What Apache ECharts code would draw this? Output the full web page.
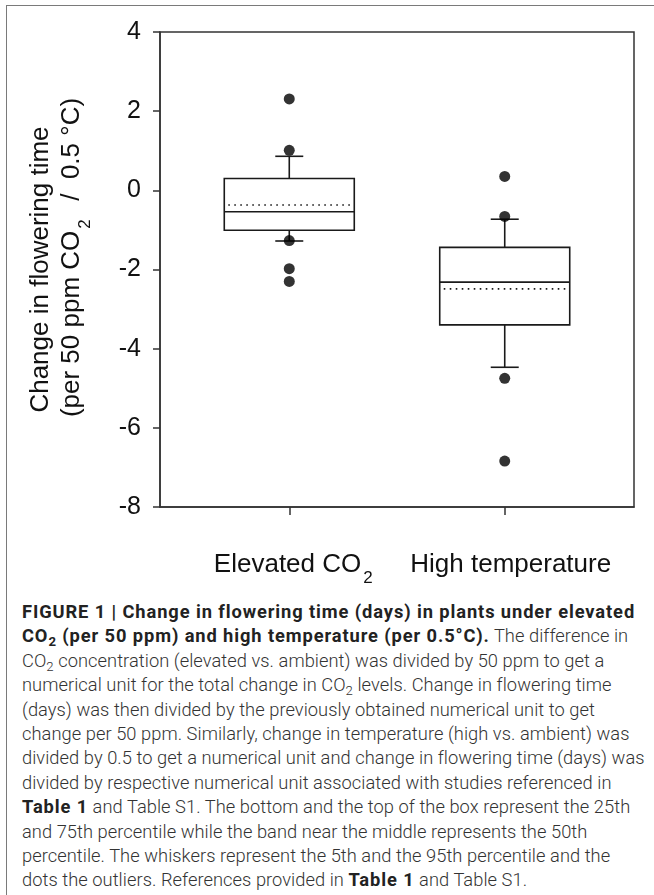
<!DOCTYPE html>
<html>
<head>
<meta charset="utf-8">
<script src="https://cdn.jsdelivr.net/npm/echarts@6/dist/echarts.min.js"></script>
<style>
    body { margin: 0; background: #fff; }
    #page { position: relative; width: 654px; height: 895px; overflow: hidden; }
    #frame {
        position: absolute; left: 6px; top: 5px; width: 700px; height: 950px;
        border-top: 1.5px solid #7a7a7a; border-left: 1.5px solid #7a7a7a;
    }
    #chart { position: absolute; left: 0; top: 0; width: 654px; height: 595px; }
    #caption {
        position: absolute; left: 22px; top: 600px;
        font-family: Roboto, "Liberation Sans", sans-serif; font-weight: 300;
        font-size: 18.3px; letter-spacing: 0.05px; line-height: 24.4px; color: #333; white-space: nowrap;
    }
    #caption b { font-weight: 700; color: #222; letter-spacing: 0.9px; }
    #caption sub { font-size: 0.72em; vertical-align: -0.3em; line-height: 0; }
</style>
</head>
<body>
<div id="page">
    <div id="frame"></div>
    <div id="chart"></div>
    <div id="caption">
        <b>FIGURE 1 | Change in flowering time (days) in plants under elevated</b><br>
        <b>CO<sub>2</sub> (per 50 ppm) and high temperature (per 0.5°C).</b> The difference in<br>
        CO<sub>2</sub> concentration (elevated vs. ambient) was divided by 50 ppm to get a<br>
        numerical unit for the total change in CO<sub>2</sub> levels. Change in flowering time<br>
        (days) was then divided by the previously obtained numerical unit to get<br>
        change per 50 ppm. Similarly, change in temperature (high vs. ambient) was<br>
        divided by 0.5 to get a numerical unit and change in flowering time (days) was<br>
        divided by respective numerical unit associated with studies referenced in<br>
        <b>Table 1</b> and Table S1. The bottom and the top of the box represent the 25th<br>
        and 75th percentile while the band near the middle represents the 50th<br>
        percentile. The whiskers represent the 5th and the 95th percentile and the<br>
        dots the outliers. References provided in <b>Table 1</b> and Table S1.
    </div>
</div>
<script>
    // groups, placed at x = 0 and 1 on a value axis
    const positions = [0, 1];
    const xLabels = ['{a|Elevated CO}{sub|2}', '{a|High temperature}'];

    // box statistics
    const whiskerLow = [-1.28, -4.47];
    const q1 = [-1.01, -3.40];
    const median = [-0.54, -2.32];
    const q3 = [0.30, -1.44];
    const whiskerHigh = [0.86, -0.73];
    const mean = [-0.37, -2.49];

    // outliers
    const outliersCO2 = [2.31, 1.01, -1.27, -1.98, -2.30];
    const outliersTemp = [0.35, -0.66, -4.75, -6.84];

    const BOX_WIDTH = 130;
    const CAP_WIDTH = 28;
    const FONT = '"Liberation Sans", Arial, sans-serif';

    const boxData = positions.map((p, i) =>
        [p, whiskerLow[i], q1[i], median[i], q3[i], whiskerHigh[i], mean[i]]);
    const outlierData = outliersCO2.map(v => [positions[0], v])
        .concat(outliersTemp.map(v => [positions[1], v]));

    function renderBox(params, api) {
        const x = api.value(0);
        const low = api.coord([x, api.value(1)]);
        const bot = api.coord([x, api.value(2)]);
        const med = api.coord([x, api.value(3)]);
        const top = api.coord([x, api.value(4)]);
        const high = api.coord([x, api.value(5)]);
        const avg = api.coord([x, api.value(6)]);
        const cx = med[0];
        const h = BOX_WIDTH / 2;
        const c = CAP_WIDTH / 2;
        const solid = { stroke: '#1a1a1a', lineWidth: 1.6, fill: null };
        return {
            type: 'group',
            children: [
                { type: 'line', shape: { x1: cx, y1: top[1], x2: cx, y2: high[1] }, style: solid },
                { type: 'line', shape: { x1: cx, y1: bot[1], x2: cx, y2: low[1] }, style: solid },
                { type: 'line', shape: { x1: cx - c, y1: high[1], x2: cx + c, y2: high[1] }, style: solid },
                { type: 'line', shape: { x1: cx - c, y1: low[1], x2: cx + c, y2: low[1] }, style: solid },
                { type: 'rect', shape: { x: cx - h, y: top[1], width: BOX_WIDTH, height: bot[1] - top[1] },
                  style: { stroke: '#1a1a1a', lineWidth: 1.6, fill: '#fff' } },
                { type: 'line', shape: { x1: cx - h, y1: med[1], x2: cx + h, y2: med[1] }, style: solid },
                { type: 'line', shape: { x1: cx - h + 4, y1: avg[1], x2: cx + h - 2, y2: avg[1] },
                  style: { stroke: '#1a1a1a', lineWidth: 1.6, lineDash: [1.6, 4.4] } }
            ]
        };
    }

    const textRich = {
        a: { fontSize: 26, lineHeight: 31, verticalAlign: 'top', color: '#111', fontFamily: FONT },
        lead: { fontSize: 26, lineHeight: 31, verticalAlign: 'top', color: '#111', fontFamily: FONT, padding: [0, 0, 0, 24] },
        sub: { fontSize: 17, lineHeight: 17, verticalAlign: 'top', padding: [18, 4, 0, 2], color: '#111', fontFamily: FONT }
    };

    const chart = echarts.init(document.getElementById('chart'), null, { renderer: 'canvas' });
    chart.setOption({
        animation: false,
        textStyle: { fontFamily: FONT },
        grid: {
            left: 160, top: 32, width: 474, height: 475,
            show: true, borderColor: '#333', borderWidth: 1.5,
            outerBoundsMode: 'none'
        },
        xAxis: {
            type: 'value',
            min: -0.6,
            max: 1.6,
            splitLine: { show: false },
            axisLine: { show: true, onZero: false, lineStyle: { color: '#333', width: 1.5 } },
            axisTick: { show: true, customValues: positions, length: 8, lineStyle: { color: '#333', width: 1.5 } },
            axisLabel: {
                customValues: positions,
                margin: 45,
                color: '#111',
                formatter: v => xLabels[Math.round(v)],
                padding: [0, 0, 0, 12],
                rich: textRich
            }
        },
        yAxis: {
            type: 'value',
            min: -8,
            max: 4,
            interval: 2,
            splitLine: { show: false },
            axisLine: { show: true, onZero: false, lineStyle: { color: '#333', width: 1.5 } },
            axisTick: { show: true, length: 7, lineStyle: { color: '#333', width: 1.5 } },
            axisLabel: { fontSize: 25, margin: 19, color: '#111' },
            name: '{a|Change in flowering time}\n{lead|(per 50 ppm CO}{sub|2}{a|  /  0.5 °C)}',
            nameLocation: 'middle',
            nameRotate: 90,
            nameGap: 70,
            nameTextStyle: { color: '#111', rich: textRich }
        },
        series: [
            {
                type: 'custom',
                renderItem: renderBox,
                encode: { x: 0, y: [1, 2, 3, 4, 5, 6] },
                data: boxData,
                z: 2
            },
            {
                type: 'scatter',
                symbol: 'circle',
                symbolSize: 11,
                itemStyle: { color: '#000' },
                data: outlierData,
                z: 3
            }
        ]
    });
</script>
</body>
</html>
